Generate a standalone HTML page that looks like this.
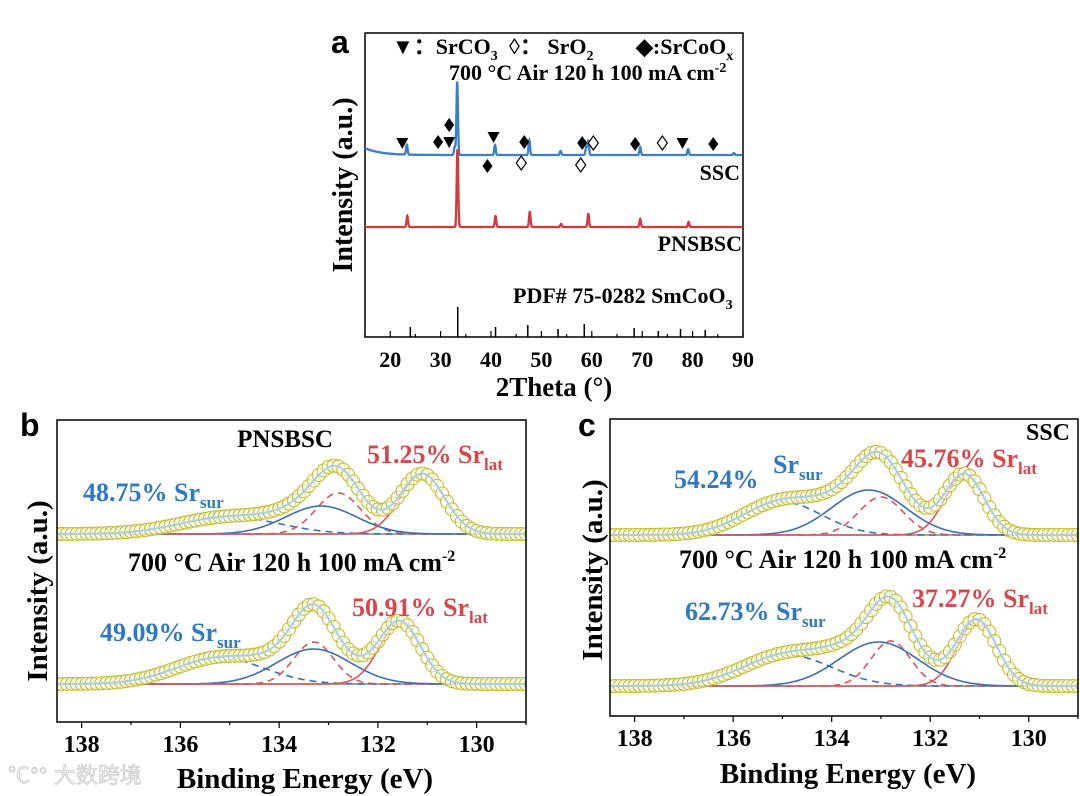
<!DOCTYPE html>
<html><head><meta charset="utf-8"><style>
html,body{margin:0;padding:0;background:#fff;}
svg{display:block;}
text{font-family:"Liberation Serif",serif;font-weight:bold;}
</style></head><body>
<svg id="fig" width="1080" height="796" viewBox="0 0 1080 796" xmlns="http://www.w3.org/2000/svg">
<defs>
<clipPath id="clipB"><rect x="57" y="420" width="469" height="302"/></clipPath>
<clipPath id="clipC"><rect x="610" y="419" width="468" height="297"/></clipPath>
</defs>
<rect x="0" y="0" width="1080" height="796" fill="#fff"/>
<g id="pa">
<text x="331" y="53" style="font-family:'Liberation Sans',sans-serif;font-size:32px">a</text>
<rect x="365" y="33" width="378" height="304" fill="none" stroke="#000" stroke-width="1.5"/>
<text x="392" y="54" font-size="22">▼：SrCO<tspan dy="6" font-size="14">3</tspan></text>
<text x="509" y="54" font-size="22">◊： SrO<tspan dy="6" font-size="14">2</tspan></text>
<text x="636" y="54" font-size="22">◆:SrCoO<tspan dy="6" font-size="14">x</tspan></text>
<text x="449" y="80" font-size="22">700 °C Air 120 h 100 mA cm<tspan dy="-8" font-size="14">-2</tspan></text>
<text x="740" y="180" font-size="22" text-anchor="end">SSC</text>
<text x="742" y="251" font-size="22" text-anchor="end">PNSBSC</text>
<text x="513" y="303" font-size="22">PDF# 75-0282 SmCoO<tspan dy="6" font-size="14">3</tspan></text>
<text transform="translate(352,185) rotate(-90)" font-size="28" text-anchor="middle">Intensity (a.u.)</text>
<text x="554" y="396" font-size="27" text-anchor="middle">2Theta (°)</text>
</g>
<g id="pb">
<text x="20" y="436" style="font-family:'Liberation Sans',sans-serif;font-size:32px">b</text>
<text transform="translate(47,591) rotate(-90)" font-size="29" text-anchor="middle">Intensity (a.u.)</text>
<text x="305" y="788" font-size="29" text-anchor="middle">Binding Energy (eV)</text>
<text x="285" y="447" font-size="25" text-anchor="middle">PNSBSC</text>
<text x="367" y="463" font-size="26" fill="#d9464a">51.25% Sr<tspan dy="7" font-size="17">lat</tspan></text>
<text x="83" y="501" font-size="26" fill="#2f79c2">48.75% Sr<tspan dy="7" font-size="17">sur</tspan></text>
<text x="128" y="571" font-size="26">700 °C Air 120 h 100 mA cm<tspan dy="-10" font-size="16">-2</tspan></text>
<text x="100" y="641" font-size="26" fill="#2f79c2">49.09% Sr<tspan dy="7" font-size="17">sur</tspan></text>
<text x="352" y="616" font-size="26" fill="#d9464a">50.91% Sr<tspan dy="7" font-size="17">lat</tspan></text>
</g>
<g id="pc">
<text x="578" y="436" style="font-family:'Liberation Sans',sans-serif;font-size:32px">c</text>
<text transform="translate(602,570) rotate(-90)" font-size="29" text-anchor="middle">Intensity (a.u.)</text>
<text x="848" y="783" font-size="29" text-anchor="middle">Binding Energy (eV)</text>
<text x="1070" y="440" font-size="24" text-anchor="end">SSC</text>
<text x="674" y="488" font-size="26" fill="#2f79c2">54.24%</text>
<text x="773" y="473" font-size="26" fill="#2f79c2">Sr<tspan dy="7" font-size="17">sur</tspan></text>
<text x="901" y="467" font-size="26" fill="#d9464a">45.76% Sr<tspan dy="7" font-size="17">lat</tspan></text>
<text x="679" y="568" font-size="26">700 °C Air 120 h 100 mA cm<tspan dy="-10" font-size="16">-2</tspan></text>
<text x="685" y="620" font-size="26" fill="#2f79c2">62.73% Sr<tspan dy="7" font-size="17">sur</tspan></text>
<text x="912" y="607" font-size="26" fill="#d9464a">37.27% Sr<tspan dy="7" font-size="17">lat</tspan></text>
</g>
<text x="8" y="783" font-size="22" fill="#ececec" stroke="#c4c4c4" stroke-width="0.6" style="font-family:'Liberation Sans','Noto Sans CJK SC',sans-serif;font-weight:normal">℃°° 大数跨境</text>
</svg>
<script>
// ---------- XRD data (panel a) ----------
const xrdTicks = [20,30,40,50,60,70,80,90];
const sscPeakPos = [23.3,32.8,33.3,40.8,47.6,53.8,58.9,59.3,69.6,79.1,88.2];
const sscPeakH   = [10,8,73,10,15,4,8,14,8,6,2];
const pnsPeakPos = [23.4,33.35,40.9,47.7,53.9,59.3,69.6,79.2];
const pnsPeakH   = [11,78,11,15,3,13,8,5];
const refPos = [24.0,33.4,40.9,47.3,53.3,58.5,68.4,73.2,77.6,82.5];
const refH   = [10,30,10,12,8,13,9,6,8,7];
const triPos = [22.4,31.7,40.5,78.0];
const triY = [144,143,138,144];
const filledDiaPos = [29.5,31.7,46.6,58.1,68.6,84.1,39.3];
const filledDiaY = [142,125,142,143,144,144,166];
const openDiaPos = [60.3,74.0,46.0,57.8];
const openDiaY = [143,143,163,165];

// ---------- XPS data (panels b, c): [center eV, height, sigma] ----------
const bTopSurMain=[133.15,28,0.72], bTopSurSec=[135.0,17,1.0], bTopLatMain=[131.1,60,0.45], bTopLatSec=[132.8,41,0.45];
const bBotSurMain=[133.3,35,0.75], bBotSurSec=[135.2,26,0.9], bBotLatMain=[131.55,61,0.42], bBotLatSec=[133.3,42,0.4];
const cTopSurMain=[133.25,45,0.75], cTopSurSec=[135.0,33,0.8], cTopLatMain=[131.3,60,0.4], cTopLatSec=[133.0,38,0.45];
const cBotSurMain=[133.05,44,0.8], cBotSurSec=[134.9,31,0.9], cBotLatMain=[131.05,65,0.4], cBotLatSec=[132.8,45,0.4];
const beTicks = [138,136,134,132,130];

const NS="http://www.w3.org/2000/svg";
const svg=document.getElementById('fig');
function mk(tag,attrs,parent){const e=document.createElementNS(NS,tag);for(const k in attrs)e.setAttribute(k,attrs[k]);(parent||svg).appendChild(e);return e;}

// ---- panel a ----
const pa=document.getElementById('pa');
const ax=v=>365+(v-15)*(378/75);
function xrdCurve(pos,h,base,name,color,extra){
  let pts=[];
  for(let t=15;t<=90;t+=0.04){
    let y=0;for(let i=0;i<pos.length;i++){const d=(t-pos[i])/0.15;y+=h[i]*Math.exp(-d*d/2);}
    if(extra)y+=extra(t);
    pts.push(ax(t).toFixed(1)+','+(base-y).toFixed(1));
  }
  const p=mk('polyline',{points:pts.join(' '),fill:'none',stroke:color,'stroke-width':2.3},pa);
  
  
}
xrdCurve(sscPeakPos,sscPeakH,155,'ssc-xrd-line','#3b7fc8',t=>7*Math.exp(-(t-15)/3));
xrdCurve(pnsPeakPos,pnsPeakH,227,'pnsbsc-xrd-line','#d43a3a');
refPos.forEach((p,i)=>{
  const l=mk('line',{x1:ax(p),x2:ax(p),y1:337,y2:337-refH[i],stroke:'#000','stroke-width':1.5},pa);
  
  
});
for(let v=15;v<=90;v+=5){
  const major=xrdTicks.includes(v);
  const t=mk('line',{x1:ax(v),x2:ax(v),y1:337,y2:337-(major?6:3),stroke:'#000','stroke-width':1.2},pa);
  
  
}
xrdTicks.forEach(v=>{
  const t=mk('text',{x:ax(v),y:367,'font-size':22,'text-anchor':'middle'},pa);t.textContent=v;
  
  
});
triPos.forEach((p,i)=>{
  const x=ax(p),y=triY[i];
  const m=mk('polygon',{points:`${x-6},${y-6} ${x+6},${y-6} ${x},${y+5}`,fill:'#000'},pa);
  
  
});
filledDiaPos.forEach((p,i)=>{
  const x=ax(p),y=filledDiaY[i];
  const m=mk('polygon',{points:`${x},${y-7} ${x+5},${y} ${x},${y+7} ${x-5},${y}`,fill:'#000'},pa);
  
  
});
openDiaPos.forEach((p,i)=>{
  const x=ax(p),y=openDiaY[i];
  const m=mk('polygon',{points:`${x},${y-7} ${x+5},${y} ${x},${y+7} ${x-5},${y}`,fill:'#fff',stroke:'#000','stroke-width':1.2},pa);
  
  
});

// ---- XPS panels ----
const g=(c,x)=>{const d=(x-c[0])/c[2];return c[1]*Math.exp(-d*d/2);};
function xpsPanel(parent,clip,L,R,T,B,tickY,spectra){
  const sx=e=>L+(138.5-e)*((R-L)/9.5);
  const data=mk('g',{'clip-path':'url(#'+clip+')'},parent);
  
  
  const fr=mk('rect',{x:L,y:T,width:R-L,height:B-T,fill:'none',stroke:'#000','stroke-width':1.5},parent);
  
  
  for(let v=129;v<=138;v++){
    const major=beTicks.includes(v);
    const t=mk('line',{x1:sx(v),x2:sx(v),y1:B,y2:B+(major?6:3),stroke:'#000','stroke-width':1.2},parent);
    
    
  }
  beTicks.forEach(v=>{
    const t=mk('text',{x:sx(v),y:tickY,'font-size':24,'text-anchor':'middle'},parent);t.textContent=v;
    
    
  });
  spectra.forEach(s=>{
    const base=s.base;
    const line=(fn,color,dash,name,w)=>{
      let pts=[];for(let e=138.6;e>=128.9;e-=0.03)pts.push(sx(e).toFixed(1)+','+(base-fn(e)).toFixed(1));
      const a={points:pts.join(' '),fill:'none',stroke:color,'stroke-width':w||1.6};if(dash)a['stroke-dasharray']=dash;
      const p=mk('polyline',a,data);
      
      
    };
    const env=e=>g(s.sm,e)+g(s.ss,e)+g(s.lm,e)+g(s.ls,e);
    const bl=mk('line',{x1:L,x2:R,y1:base,y2:base,stroke:'#888','stroke-width':1.5},data);
    
    
    line(e=>g(s.ss,e),'#3a6fb5','7,5','sr-sur-secondary-fit');
    line(e=>g(s.ls,e),'#d9555a','7,5','sr-lat-secondary-fit');
    line(e=>g(s.sm,e),'#3a6fb5',null,'sr-sur-fit');
    line(e=>g(s.lm,e),'#d9555a',null,'sr-lat-fit');
    for(let e=138.6;e>=128.9;e-=0.1){
      const c=mk('circle',{cx:sx(e).toFixed(1),cy:(base-env(e)).toFixed(1),r:6.5,fill:'#fff','fill-opacity':0.5,stroke:'#c2be2c','stroke-width':1.1},data);
      
      
    }
    line(env,'#a8cfe0',null,'envelope-fit',2);
  });
}
xpsPanel(document.getElementById('pb'),'clipB',57,526,420,722,752,[
  {base:534,sm:bTopSurMain,ss:bTopSurSec,lm:bTopLatMain,ls:bTopLatSec},
  {base:684,sm:bBotSurMain,ss:bBotSurSec,lm:bBotLatMain,ls:bBotLatSec}]);
xpsPanel(document.getElementById('pc'),'clipC',610,1078,419,716,746,[
  {base:535,sm:cTopSurMain,ss:cTopSurSec,lm:cTopLatMain,ls:cTopLatSec},
  {base:686,sm:cBotSurMain,ss:cBotSurSec,lm:cBotLatMain,ls:cBotLatSec}]);
['pb','pc'].forEach(id=>{const p=document.getElementById(id);Array.from(p.querySelectorAll(':scope > text')).forEach(t=>p.appendChild(t));});
</script>
</body></html>
